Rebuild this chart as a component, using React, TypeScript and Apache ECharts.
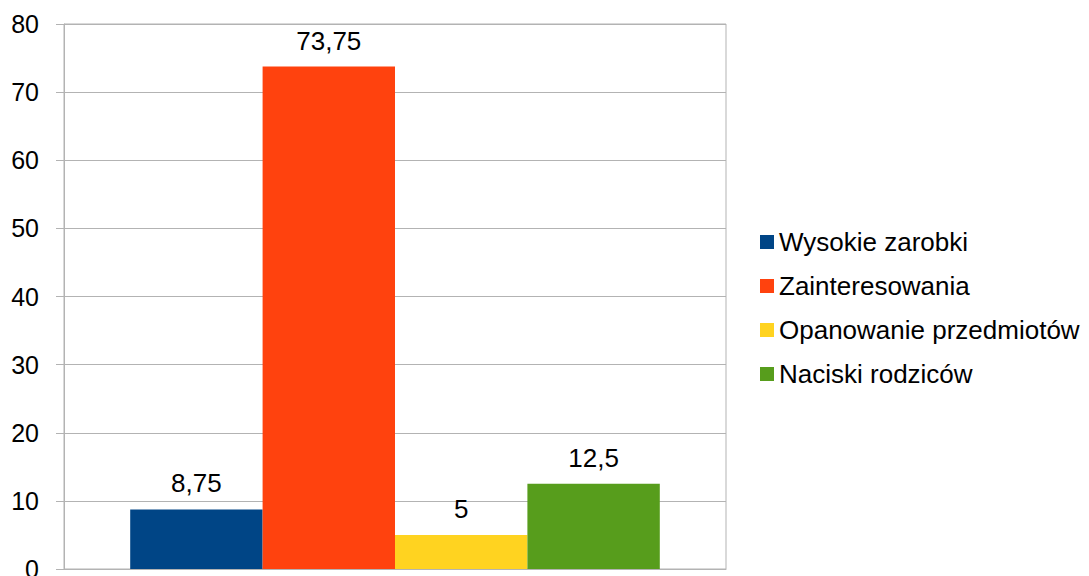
import React, { useEffect, useRef } from "react";
import * as echarts from "echarts";

const categories = [""];
const seriesNames = ["Wysokie zarobki", "Zainteresowania", "Opanowanie przedmiotów", "Naciski rodziców"];
const seriesValues = [8.75, 73.75, 5, 12.5];
const seriesColors = ["#004586", "#ff420e", "#ffd320", "#579d1c"];
const yTicks = { min: 0, max: 80, interval: 10 };

const FONT = "'Liberation Sans', Arial, sans-serif";

export default function App() {
  const ref = useRef<HTMLDivElement>(null);
  useEffect(() => {
    if (!ref.current) return;
    const chart = echarts.init(ref.current, undefined, { renderer: "svg" });
    chart.setOption({
      animation: false,
      backgroundColor: "#ffffff",
      textStyle: { fontFamily: FONT },
      grid: {
        left: 64,
        top: 24,
        right: 363,
        bottom: 7,
        show: true,
        borderColor: "#b3b3b3",
        borderWidth: 1,
        outerBoundsMode: "none",
        containLabel: false,
      },
      legend: {
        orient: "vertical",
        left: 755,
        top: 224,
        icon: "rect",
        itemWidth: 14,
        itemHeight: 14,
        itemGap: 18,
        textStyle: { fontSize: 26, color: "#000000", fontFamily: FONT },
        data: seriesNames,
      },
      xAxis: {
        type: "category",
        data: categories,
        axisLine: { lineStyle: { color: "#b3b3b3" } },
        axisTick: { show: false },
        axisLabel: { show: false },
      },
      yAxis: {
        type: "value",
        min: yTicks.min,
        max: yTicks.max,
        interval: yTicks.interval,
        axisLine: { show: true, lineStyle: { color: "#b3b3b3" } },
        axisTick: { show: true, length: 8, lineStyle: { color: "#b3b3b3" } },
        axisLabel: { fontSize: 25, color: "#000000", margin: 25, fontFamily: FONT },
        splitLine: { lineStyle: { color: "#b3b3b3" } },
      },
      series: seriesNames.map((name, i) => ({
        name,
        type: "bar",
        data: [seriesValues[i]],
        itemStyle: { color: seriesColors[i] },
        barGap: "0%",
        barCategoryGap: "20%",
        label: {
          show: true,
          position: "top",
          distance: 13,
          fontSize: 26,
          color: "#000000",
          fontFamily: FONT,
          formatter: (p: any) => String(p.value).replace(".", ","),
        },
      })),
    });
    return () => chart.dispose();
  }, []);
  return <div ref={ref} style={{ position: "fixed", left: 0, top: 0, width: 1089, height: 576 }} />;
}
